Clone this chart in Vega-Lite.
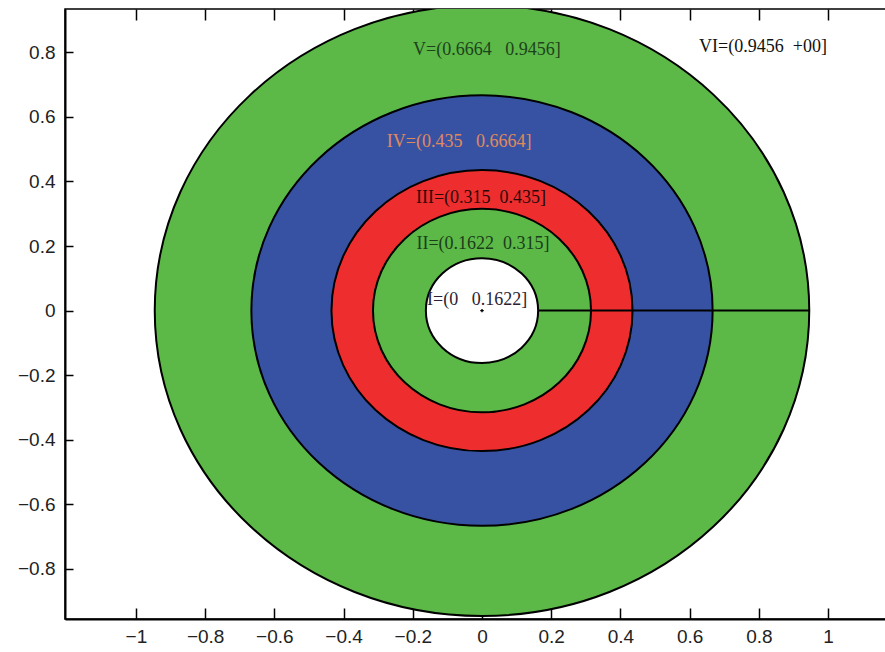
{
  "$schema": "https://vega.github.io/schema/vega-lite/v6.json",
  "autosize": {"type": "none"},
  "width": 825,
  "height": 610,
  "padding": {"left": 65, "top": 9, "right": 0, "bottom": 33},
  "background": "white",
  "config": {
    "view": {"stroke": "black", "strokeWidth": 1.5},
    "axis": {
      "grid": false,
      "title": null,
      "domainColor": "black",
      "domainWidth": 2,
      "tickColor": "black",
      "tickWidth": 1.5,
      "labelFont": "Liberation Sans",
      "labelFontSize": 19,
      "labelColor": "#222222",
      "format": ".1~f"
    }
  },
  "resolve": {"axis": {"x": "independent"}},
  "datasets": {
    "rings": [
      {"ring": "V", "r": 0.9456, "cx": 0, "cy": 0},
      {"ring": "IV", "r": 0.6664, "cx": 0, "cy": 0},
      {"ring": "III", "r": 0.435, "cx": 0, "cy": 0},
      {"ring": "II", "r": 0.315, "cx": 0, "cy": 0},
      {"ring": "I", "r": 0.1622, "cx": 0, "cy": 0}
    ],
    "radial": [{"x": 0.1622, "x2": 0.9456, "y": 0}],
    "center": [{"x": 0, "y": 0}],
    "labels": [
      {"label": "V=(0.6664\u00a0\u00a0\u00a00.9456]", "key": "V", "tx": 0.014, "ty": 0.807},
      {"label": "VI=(0.9456\u00a0\u00a0+00]", "key": "VI", "tx": 0.812, "ty": 0.816},
      {"label": "IV=(0.435\u00a0\u00a0\u00a00.6664]", "key": "IV", "tx": -0.066, "ty": 0.522},
      {"label": "III=(0.315\u00a0\u00a00.435]", "key": "III", "tx": -0.003, "ty": 0.350},
      {"label": "II=(0.1622\u00a0\u00a00.315]", "key": "II", "tx": 0.003, "ty": 0.206},
      {"label": "I=(0\u00a0\u00a0\u00a00.1622]", "key": "I", "tx": -0.014, "ty": 0.033}
    ]
  },
  "layer": [
    {
      "data": {"name": "rings"},
      "mark": {
        "type": "point",
        "filled": true,
        "opacity": 1,
        "stroke": "black",
        "strokeWidth": 2,
        "strokeOpacity": 1,
        "clip": true,
        "shape": "M -1 0 A 1 0.9333 0 1 1 1 0 A 1 0.9333 0 1 1 -1 0 Z"
      },
      "encoding": {
        "x": {
          "field": "cx", "type": "quantitative",
          "scale": {"domain": [-1.205, 1.179], "nice": false, "zero": false},
          "axis": {
            "orient": "bottom",
            "values": [-1, -0.8, -0.6, -0.4, -0.2, 0, 0.2, 0.4, 0.6, 0.8, 1],
            "tickSize": -11,
            "labelPadding": 19
          }
        },
        "y": {
          "field": "cy", "type": "quantitative",
          "scale": {"domain": [-0.955, 0.934], "nice": false, "zero": false},
          "axis": {
            "orient": "left",
            "values": [-0.8, -0.6, -0.4, -0.2, 0, 0.2, 0.4, 0.6, 0.8],
            "tickSize": -8,
            "labelPadding": 18
          }
        },
        "size": {
          "field": "r", "type": "quantitative",
          "scale": {"type": "pow", "exponent": 2, "domain": [0, 1], "range": [0, 479100]},
          "legend": null
        },
        "fill": {
          "field": "ring", "type": "nominal",
          "scale": {"domain": ["V", "IV", "III", "II", "I"], "range": ["#5DB947", "#3852A3", "#EE2E2E", "#5DB947", "#FFFFFF"]},
          "legend": null
        },
        "order": {"field": "r", "sort": "descending"}
      }
    },
    {
      "data": {"name": "radial"},
      "mark": {"type": "rule", "color": "black", "strokeWidth": 2},
      "encoding": {
        "x": {
          "field": "x", "type": "quantitative",
          "axis": {
            "orient": "top",
            "values": [-1, -0.8, -0.6, -0.4, -0.2, 0, 0.2, 0.4, 0.6, 0.8, 1],
            "labels": false,
            "tickSize": -11,
            "domain": false
          }
        },
        "x2": {"field": "x2"},
        "y": {"field": "y", "type": "quantitative"}
      }
    },
    {
      "data": {"name": "center"},
      "mark": {"type": "point", "shape": "cross", "filled": true, "color": "black", "opacity": 1, "size": 12},
      "encoding": {
        "x": {"field": "x", "type": "quantitative", "axis": null},
        "y": {"field": "y", "type": "quantitative"}
      }
    },
    {
      "data": {"name": "labels"},
      "mark": {"type": "text", "font": "Liberation Serif", "fontSize": 18, "align": "center", "baseline": "middle"},
      "encoding": {
        "x": {"field": "tx", "type": "quantitative", "axis": null},
        "y": {"field": "ty", "type": "quantitative"},
        "text": {"field": "label"},
        "color": {
          "field": "key", "type": "nominal",
          "scale": {"domain": ["V", "VI", "IV", "III", "II", "I"], "range": ["#1C431C", "#111111", "#E08A5A", "#2A0808", "#1A3D1A", "#2A2233"]},
          "legend": null
        }
      }
    }
  ]
}
